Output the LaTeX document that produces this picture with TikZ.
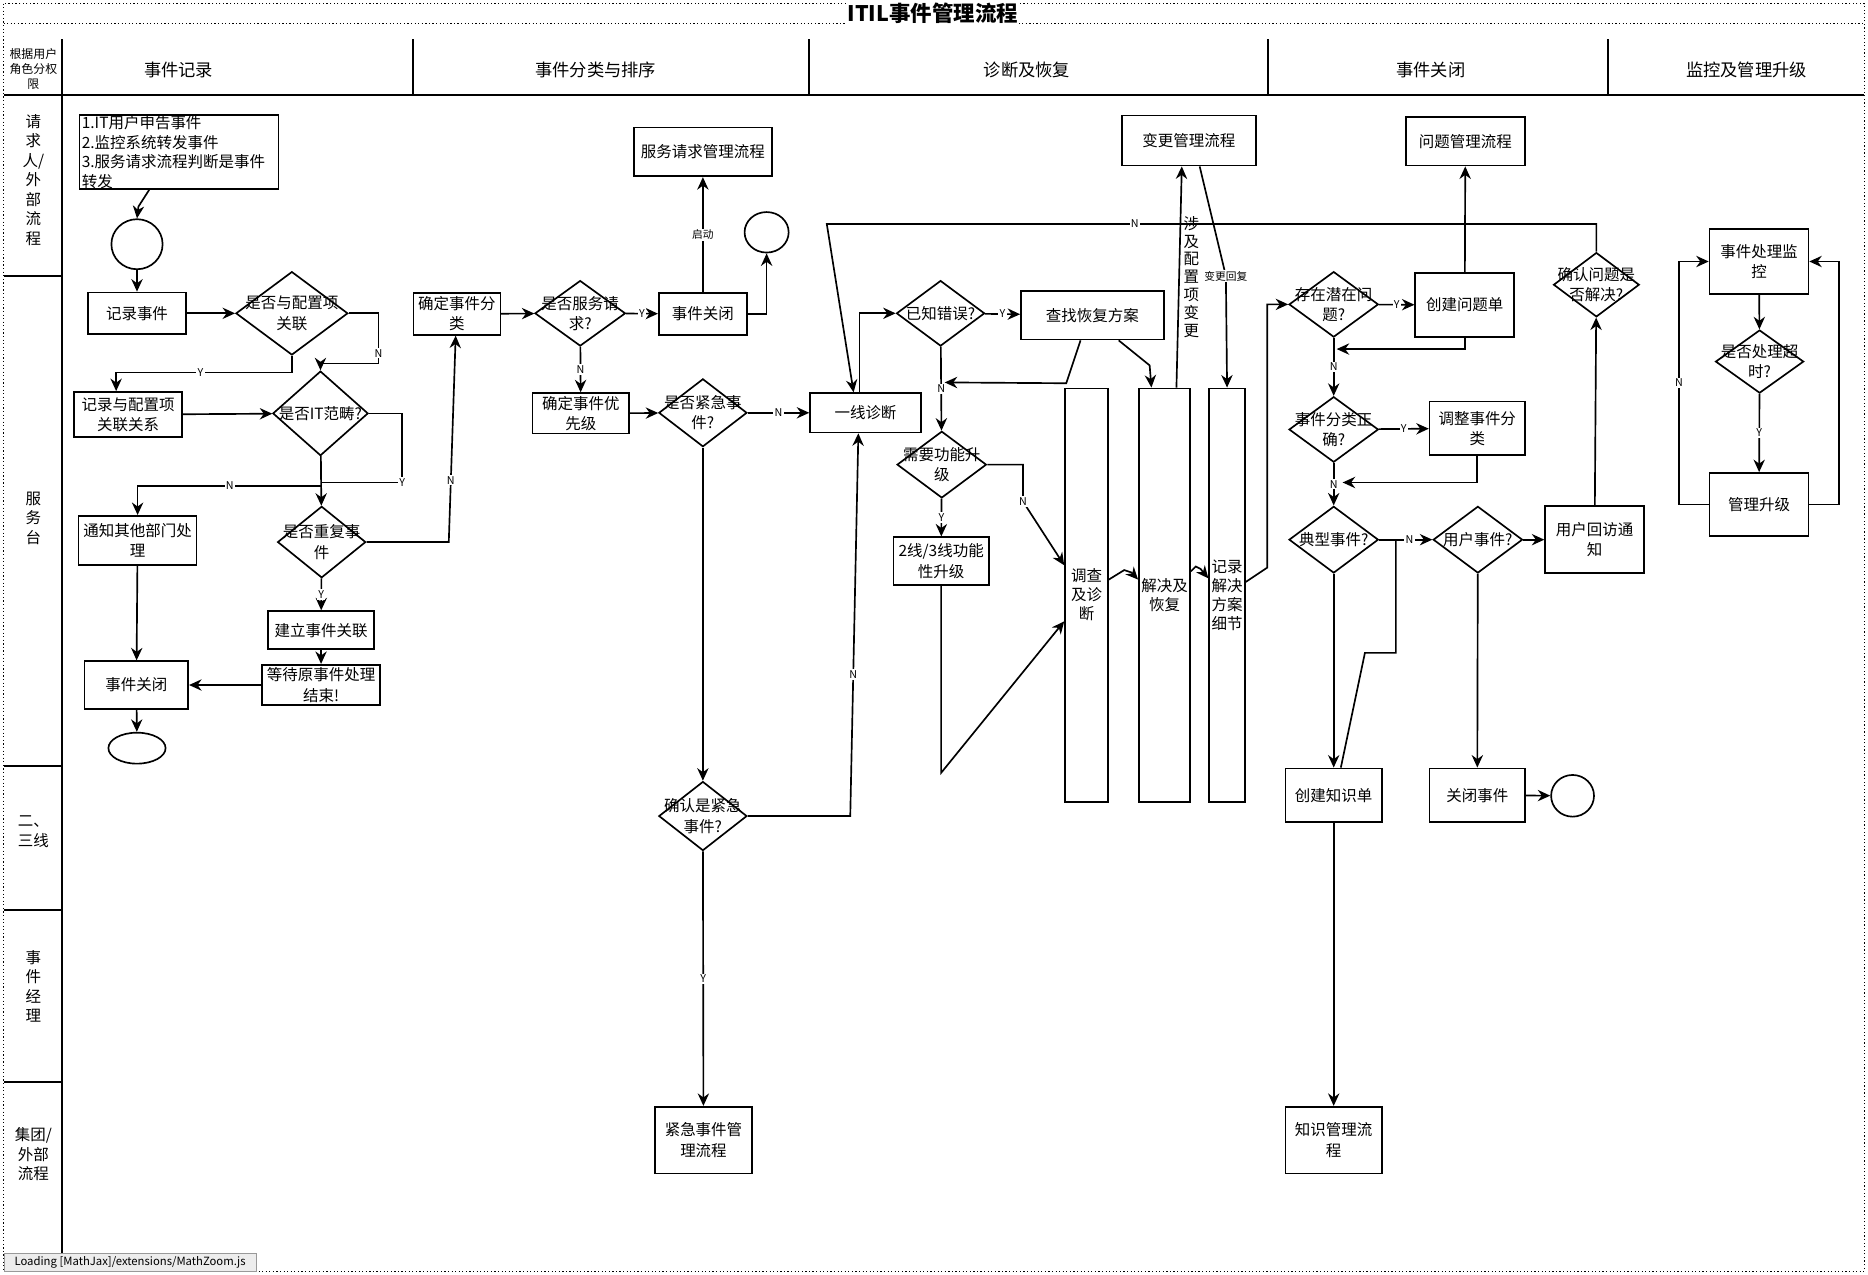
\documentclass[tikz,border=0pt]{standalone}
\usepackage{fontspec}
\setmainfont{Noto Sans CJK SC}
\usetikzlibrary{shapes.geometric,arrows.meta}

\tikzset{
  box/.style={draw, line width=1.4pt, rectangle, inner sep=2pt, align=center, font=\fontsize{13}{17}\selectfont},
  dia/.style={draw, line width=1.4pt, diamond, inner sep=0pt},
  dtxt/.style={align=center, inner sep=0pt, font=\fontsize{13}{17}\selectfont},
  oval/.style={draw, line width=1.4pt, ellipse, inner sep=0pt},
  lbl/.style={fill=white, inner sep=1pt, font=\fontsize{9}{10}\selectfont},
  arr/.style={line width=1.4pt, -{Stealth[length=10.5pt,width=9.5pt]}},
  con/.style={line width=1.4pt},
  lane/.style={align=center, inner sep=0pt, font=\fontsize{13}{16.3}\selectfont},
  head/.style={inner sep=0pt, font=\fontsize{14.5}{17}\selectfont}
}

\begin{document}
\begin{tikzpicture}[x=1pt,y=-1pt]
\useasboundingbox (0,0) rectangle (1568,1070);

% frame and lanes
\draw[dotted, line width=1pt] (3,3) rectangle (1565,1067);
\draw[dotted, line width=1pt] (3,20) -- (1565,20);
\node[fill=white, inner sep=1pt, font=\fontsize{18}{20}\selectfont\bfseries] (title) at (783,11) {ITIL事件管理流程};
\draw[line width=2pt] (3,80) -- (1565,80);
\draw[line width=1.6pt] (52,33) -- (52,1067);
\foreach \x in {347,679,1064,1350} \draw[line width=1.6pt] (\x,33) -- (\x,80);
\foreach \y in {232,643,764,908} \draw[line width=1.8pt] (3,\y) -- (52,\y);

\node[lane, font=\fontsize{10}{12.5}\selectfont] (role) at (28,58) {根据用户\\角色分权\\限};
\node[head] (h1) at (150,59) {事件记录};
\node[head] (h2) at (500,59) {事件分类与排序};
\node[head] (h3) at (862,59) {诊断及恢复};
\node[head] (h4) at (1201,59) {事件关闭};
\node[head] (h5) at (1466,59) {监控及管理升级};

\node[lane] (l1) at (28,151) {请\\求\\人/\\外\\部\\流\\程};
\node[lane] (l2) at (28,435) {服\\务\\台};
\node[lane] (l3) at (28,698) {二、\\三线};
\node[lane] (l4) at (28,828) {事\\件\\经\\理};
\node[lane] (l5) at (28,969) {集团/\\外部\\流程};

% event record
\node[box, anchor=north west, text width=163pt, align=left, inner xsep=2pt, inner ysep=0pt, minimum height=62pt, font=\fontsize{13}{16.3}\selectfont] (req) at (66,96) {1.IT用户申告事件\\2.监控系统转发事件\\3.服务请求流程判断是事件\\转发};
\node[oval, minimum width=43pt, minimum height=42pt] (st) at (115,205) {};
\node[box, minimum width=82pt, minimum height=35pt] (rec) at (115,263) {记录事件};
\node[dia, minimum width=94pt, minimum height=70pt, label={[dtxt]center:{是否与配置项\\关联}}] (dci) at (245,263) {};
\node[box, minimum width=91pt, minimum height=38pt] (reccI) at (107.5,348) {记录与配置项\\关联关系};
\node[dia, minimum width=80pt, minimum height=71pt, label={[dtxt]center:{是否IT范畴?}}] (dit) at (269,347) {};
\node[dia, minimum width=74pt, minimum height=60pt, label={[dtxt]center:{是否重复事\\件}}] (ddup) at (270,455) {};
\node[box, minimum width=99pt, minimum height=41pt] (notify) at (115.5,453.5) {通知其他部门处\\理};
\node[box, minimum width=89pt, minimum height=32pt] (link) at (269.5,529) {建立事件关联};
\node[box, minimum width=99pt, minimum height=34pt] (wait) at (269.5,575) {等待原事件处理\\结束!};
\node[box, minimum width=87pt, minimum height=40pt] (close1) at (114.5,575) {事件关闭};
\node[oval, minimum width=48pt, minimum height=26pt] (end1) at (115,628) {};

% classify and sort
\node[box, minimum width=73pt, minimum height=35pt] (cls) at (383.5,263.5) {确定事件分\\类};
\node[dia, minimum width=76pt, minimum height=55pt, label={[dtxt]center:{是否服务请\\求?}}] (dsr) at (487,263) {};
\node[box, minimum width=74pt, minimum height=35pt] (close2) at (590,263.5) {事件关闭};
\node[box, minimum width=116pt, minimum height=41pt] (srm) at (590,127.5) {服务请求管理流程};
\node[oval, minimum width=37pt, minimum height=34pt] (end2) at (643.5,195) {};
\node[box, minimum width=81pt, minimum height=34pt] (prio) at (487.5,347) {确定事件优\\先级};
\node[dia, minimum width=74pt, minimum height=57pt, label={[dtxt]center:{是否紧急事\\件?}}] (durg) at (590,346.5) {};
\node[box, minimum width=93pt, minimum height=33pt] (diag) at (726.5,346.5) {一线诊断};
\node[dia, minimum width=74pt, minimum height=58pt, label={[dtxt]center:{确认是紧急\\事件?}}] (dcurg) at (590,685) {};
\node[box, minimum width=81pt, minimum height=56pt] (urgm) at (590.5,957) {紧急事件管\\理流程};

% diagnosis and recovery
\node[dia, minimum width=74pt, minimum height=55pt, label={[dtxt]center:{已知错误?}}] (dknown) at (789.5,263) {};
\node[box, minimum width=120pt, minimum height=41pt] (find) at (917,264.5) {查找恢复方案};
\node[dia, minimum width=75pt, minimum height=56pt, label={[dtxt]center:{需要功能升\\级}}] (dfunc) at (790.5,390) {};
\node[box, minimum width=80pt, minimum height=40pt] (upg) at (790,471) {2线/3线功能\\性升级};
\node[box, minimum width=112pt, minimum height=42pt] (chg) at (998,118) {变更管理流程};
\node[box, minimum width=36pt, minimum height=347pt, font=\fontsize{13}{16}\selectfont] (inv) at (912,499.5) {调查\\及诊\\断};
\node[box, minimum width=43pt, minimum height=347pt, font=\fontsize{13}{16}\selectfont] (res) at (977.5,499.5) {解决及\\恢复};
\node[box, minimum width=30pt, minimum height=347pt, font=\fontsize{13}{16}\selectfont] (doc) at (1030,499.5) {记录\\解决\\方案\\细节};

% event close
\node[dia, minimum width=75pt, minimum height=55pt, label={[dtxt]center:{存在潜在问\\题?}}] (dprob) at (1119.5,255.5) {};
\node[box, minimum width=83pt, minimum height=54pt] (mkprob) at (1229.5,256) {创建问题单};
\node[box, minimum width=100pt, minimum height=41pt] (pm) at (1230,118.5) {问题管理流程};
\node[dia, minimum width=75pt, minimum height=55pt, label={[dtxt]center:{事件分类正\\确?}}] (dcat) at (1119.5,360.5) {};
\node[box, minimum width=80pt, minimum height=45pt] (adj) at (1240,359.5) {调整事件分\\类};
\node[dia, minimum width=75pt, minimum height=56pt, label={[dtxt]center:{典型事件?}}] (dtyp) at (1119.5,453) {};
\node[dia, minimum width=75pt, minimum height=56pt, label={[dtxt]center:{用户事件?}}] (dusr) at (1240.5,453) {};
\node[box, minimum width=83pt, minimum height=56pt] (visit) at (1338.5,453) {用户回访通\\知};
\node[dia, minimum width=72pt, minimum height=54pt, label={[dtxt]center:{确认问题是\\否解决?}}] (dsolved) at (1340,239) {};
\node[box, minimum width=81pt, minimum height=45pt] (mkkn) at (1119.5,667.5) {创建知识单};
\node[box, minimum width=80pt, minimum height=45pt] (closeev) at (1240,667.5) {关闭事件};
\node[oval, minimum width=36pt, minimum height=35pt] (end3) at (1320,668) {};
\node[box, minimum width=81pt, minimum height=56pt] (km) at (1119.5,957) {知识管理流\\程};

% monitor and escalation
\node[box, minimum width=83pt, minimum height=55pt] (mon) at (1476.5,219.5) {事件处理监\\控};
\node[dia, minimum width=74pt, minimum height=53pt, label={[dtxt]center:{是否处理超\\时?}}] (dto) at (1477,303.5) {};
\node[box, minimum width=83pt, minimum height=53pt] (esc) at (1476.5,423.5) {管理升级};

\node[draw=black!40, fill=black!7, anchor=north west, minimum width=212pt, minimum height=15pt, inner sep=1pt, font=\fontsize{9.5}{10}\selectfont] (mj) at (3,1052) {Loading [MathJax]/extensions/MathZoom.js};

% joints
\coordinate (jY) at (270,405);
\coordinate (jN) at (270,408);
\coordinate (jL) at (694,188);
\coordinate (jK) at (793,321);
\coordinate (jP) at (1122,293);
\coordinate (jA) at (1127,405);

% connectors
\draw[arr] ([xshift=-25pt]req.south) -- ++(-9,14) -- (st.north);
\draw[arr] (st) -- (rec);
\draw[arr] (rec) -- (dci);
\draw[arr] (dci.east) -- ++(25,0) -- node[lbl, pos=0.8]{N} ++(0,42) -| (dit.north);
\draw[arr] (dci.south) -- ++(0,14) -| node[lbl, pos=0.26]{Y} ([xshift=-10pt]reccI.north);
\draw[arr] (reccI) -- (dit);
\draw[arr] (dit) -- (ddup);
\draw[con] (dit.east) -- ++(28,0) -- ++(0,58) node[lbl]{Y} -- (jY);
\draw[arr] (jN) -- node[lbl]{N} (jN -| notify) -- (notify.north);
\draw[arr] (ddup.east) -- ++(69,0) -- node[lbl, pos=0.3]{N} ([xshift=-1pt]cls.south);
\draw[arr] (ddup) -- node[lbl]{Y} (link);
\draw[arr] (link) -- (wait);
\draw[arr] (wait) -- (close1);
\draw[arr] (notify) -- (close1);
\draw[arr] (close1) -- (end1);

\draw[arr] (cls) -- (dsr);
\draw[arr] (dsr) -- node[lbl]{Y} (close2);
\draw[arr] (dsr) -- node[lbl]{N} (prio);
\draw[arr] (close2) -- node[lbl]{启动} (srm);
\draw[arr] (close2.east) -| (end2.south);
\draw[arr] (prio) -- (durg);
\draw[arr] (durg) -- node[lbl]{N} (diag);
\draw[arr] (durg) -- (dcurg);
\draw[arr] (dcurg) -- node[lbl]{Y} (urgm);
\draw[arr] (dcurg.east) -- ++(86,0) -- node[lbl, pos=0.37]{N} ([xshift=-6pt]diag.south);
\draw[arr] ([xshift=-5pt]diag.north) |- (dknown.west);
\draw[arr] (dsolved.north) |- node[lbl, pos=0.8]{N} (jL) -- ([xshift=-10pt]diag.north);

\draw[arr] (dknown) -- node[lbl]{Y} (find);
\draw[arr] (dknown) -- node[lbl]{N} (dfunc);
\draw[arr] ([xshift=-10pt]find.south) -- ++(-12,36) -- (jK);
\draw[arr] ([xshift=22pt]find.south) -- ++(26,21) -- ([xshift=-11pt]res.north);
\draw[arr] (dfunc) -- node[lbl]{Y} (upg);
\draw[arr] (dfunc.east) -- ++(30,0) -- ++(0,31) node[lbl]{N} -- ([yshift=25pt]inv.west);
\draw[arr] (upg.south) -- ++(0,157) -- ([yshift=-22pt]inv.west);
\draw[arr] ([yshift=13pt]inv.east) -- ++(13,-8) -- ++(6,2) -- ([yshift=13pt]res.west);
\draw[arr] ([yshift=20pt]res.east) -- ++(4,-4) -- ++(4,2) -- ([yshift=14pt]doc.west);
\draw[arr] ([xshift=10pt]res.north) -- node[midway, anchor=west, xshift=2pt, inner sep=1pt, align=center, font=\fontsize{13}{15}\selectfont]{涉\\及\\配\\置\\项\\变\\更} ([xshift=-6pt]chg.south);
\draw[arr] ([xshift=9pt]chg.south) -- ++(22,92) node[lbl]{变更回复} -- (doc.north);
\draw[arr] ([yshift=11pt]doc.east) -- ++(18,-12) |- (dprob.west);

\draw[arr] (dprob) -- node[lbl]{Y} (mkprob);
\draw[arr] (mkprob) -- (pm);
\draw[arr] (mkprob.south) |- (jP);
\draw[arr] (dprob) -- node[lbl]{N} (dcat);
\draw[arr] (dcat) -- node[lbl]{Y} (adj);
\draw[arr] (adj.south) |- (jA);
\draw[arr] (dcat) -- node[lbl]{N} (dtyp);
\draw[arr] (dtyp) -- node[lbl, pos=0.57]{N} (dusr);
\draw[con] (dtyp.east) ++(14,0) -- ++(0,95) -- ++(-26,0) -- ([xshift=6pt]mkkn.north);
\draw[arr] (dtyp) -- (mkkn);
\draw[arr] (dusr) -- (visit);
\draw[arr] (dusr) -- (closeev);
\draw[arr] (closeev) -- (end3);
\draw[arr] (visit) -- (dsolved);
\draw[arr] (mkkn) -- (km);

\draw[arr] (mon) -- (dto);
\draw[arr] (dto) -- node[lbl]{Y} (esc);
\draw[arr] (esc.west) -- ++(-25,0) -- node[lbl]{N} ++(0,-204) -- (mon.west);
\draw[arr] (esc.east) -- ++(25,0) |- (mon.east);
\end{tikzpicture}
\end{document}
